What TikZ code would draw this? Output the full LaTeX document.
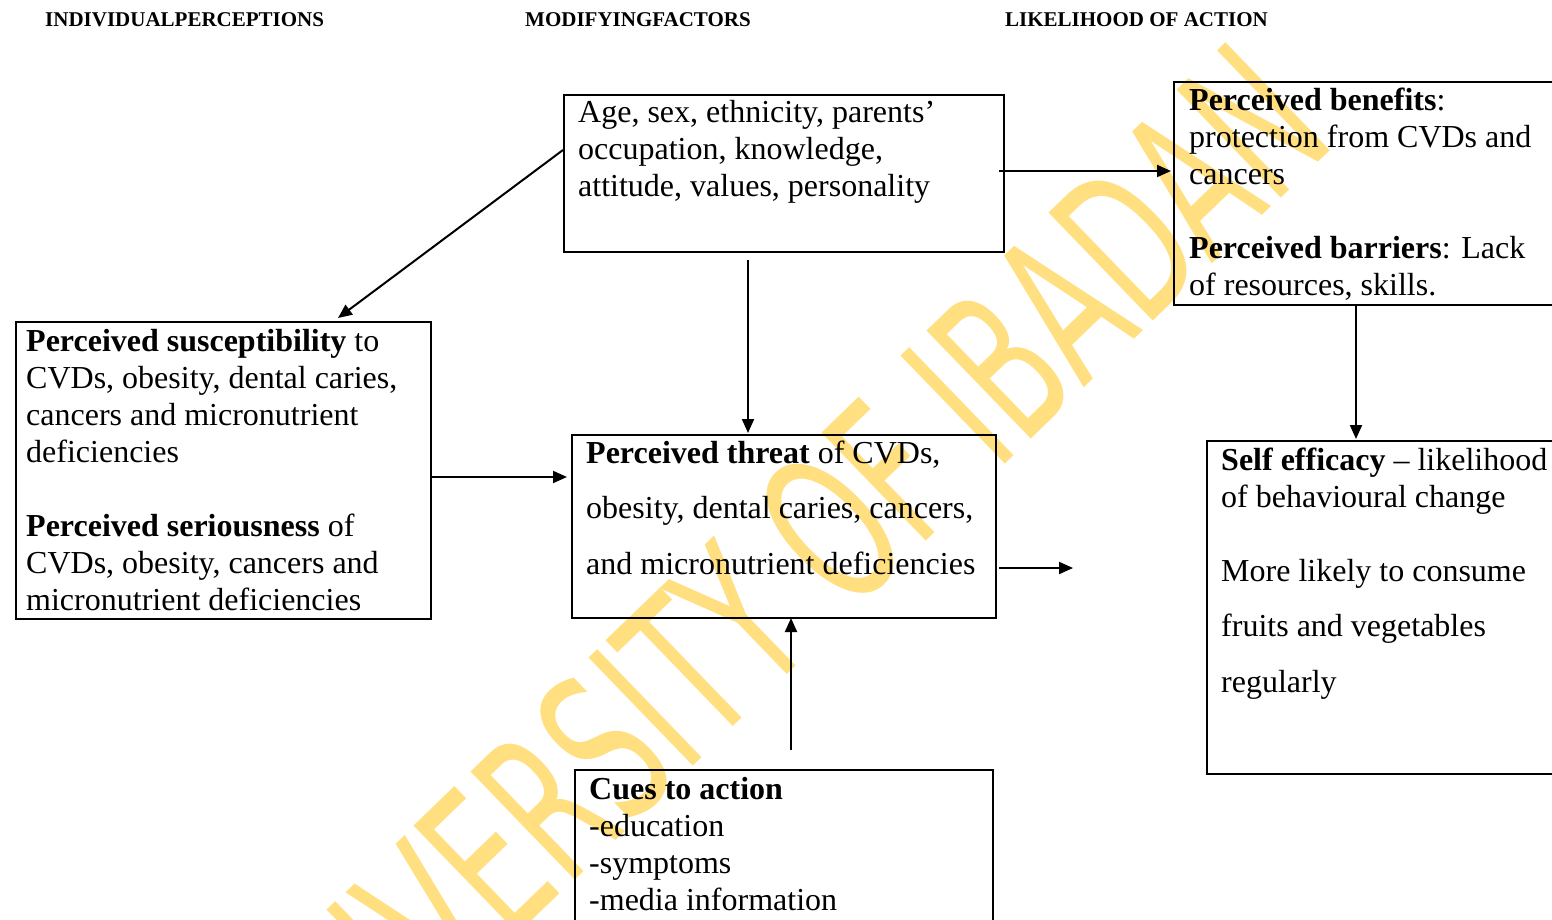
\documentclass[tikz,border=0pt]{standalone}
\usepackage{fontspec}
\setmainfont{Liberation Serif}
\newfontfamily\wmfont{DejaVu Sans}
\usetikzlibrary{arrows.meta,calc}
\definecolor{wmyellow}{RGB}{255,223,128}
\newcommand{\bodyfont}{\fontsize{32}{37}\selectfont}
\tikzset{
  box/.style={draw, line width=2pt, inner sep=0pt, anchor=north west},
  txt/.style={anchor=base west, inner sep=0pt},
  arr/.style={line width=2pt, -{Triangle[length=14pt,width=12pt]}},
  hdr/.style={anchor=base west, inner sep=0pt, font=\fontsize{21}{25}\selectfont\bfseries},
}
\begin{document}
\begin{tikzpicture}[x=1pt,y=-1pt]
\useasboundingbox (0,0) rectangle (1552,920);
\clip (0,0) rectangle (1552,920);
% watermark
\node[rotate=44, text=wmyellow, inner sep=0pt] (wm) at (763,594)
  {\scalebox{0.6}[1]{\wmfont\fontsize{206}{206}\selectfont UNIVERSITY OF IBADAN}};
% headers
\node[hdr] (h1) at (45,27) {INDIVIDUALPERCEPTIONS};
\node[hdr] (h2) at (525,27) {MODIFYINGFACTORS};
\node[hdr] (h3) at (1005,27) {LIKELIHOOD OF ACTION};
% boxes
\node[box, minimum width=440, minimum height=157] (mod) at (563,94) {};
\node[box, minimum width=415, minimum height=297] (per) at (15,321) {};
\node[box, minimum width=424, minimum height=183] (thr) at (571,434) {};
\node[box, minimum width=397, minimum height=223] (ben) at (1173,81) {};
\node[box, minimum width=364, minimum height=333] (slf) at (1206,440) {};
\node[box, minimum width=418, minimum height=171] (cue) at (574,769) {};
% texts
\node[txt] (modt) at (578,123) {\parbox[t]{420pt}{\raggedright\bodyfont
  Age, sex, ethnicity, parents’\\ occupation, knowledge,\\ attitude, values, personality}};
\node[txt] (pert) at (26,351) {\parbox[t]{400pt}{\raggedright\bodyfont
  \textbf{Perceived susceptibility} to\\ CVDs, obesity, dental caries,\\ cancers and micronutrient\\ deficiencies\\[37pt]
  \textbf{Perceived seriousness} of\\ CVDs, obesity, cancers and\\ micronutrient deficiencies}};
\node[txt] (thrt) at (586,463) {\parbox[t]{420pt}{\raggedright\bodyfont
  \textbf{Perceived threat} of CVDs,\\[18.5pt] obesity, dental caries, cancers,\\[18.5pt] and micronutrient deficiencies}};
\node[txt] (bent) at (1189,111) {\parbox[t]{370pt}{\raggedright\bodyfont
  \textbf{Perceived benefits}:\\ protection from CVDs and\\ cancers\\[37pt]
  \textbf{Perceived barriers}: Lack\\ of resources, skills.}};
\node[txt] (slft) at (1221,470) {\parbox[t]{340pt}{\raggedright\bodyfont
  \textbf{Self efficacy} -- likelihood\\ of behavioural change\\[37pt]
  More likely to consume\\[18.5pt] fruits and vegetables\\[18.5pt] regularly}};
\node[txt] (cuet) at (589,799) {\parbox[t]{400pt}{\raggedright\bodyfont
  \textbf{Cues to action}\\ -education\\ -symptoms\\ -media information}};
% connectors
\coordinate (e5) at (1073,568);
\draw[arr] ($(mod.north west)+(0,56)$) -- ($(per.north west)+(323,-3)$);
\draw[arr] ($(mod.north east)+(-6,77)$) -- ($(ben.north west)+(-2,90)$);
\draw[arr] ($(mod.south west)+(185,7)$) -- ($(thr.north west)+(177,-1)$);
\draw[arr] ($(per.north east)+(0,156)$) -- ($(thr.north west)+(-4,43)$);
\draw[arr] ($(thr.north east)+(2,134)$) -- (e5);
\draw[arr] ($(cue.north west)+(217,-19)$) -- ($(thr.south west)+(220,-1)$);
\draw[arr] ($(ben.south west)+(183,0)$) -- ($(slf.north west)+(150,-1)$);
\end{tikzpicture}
\end{document}
